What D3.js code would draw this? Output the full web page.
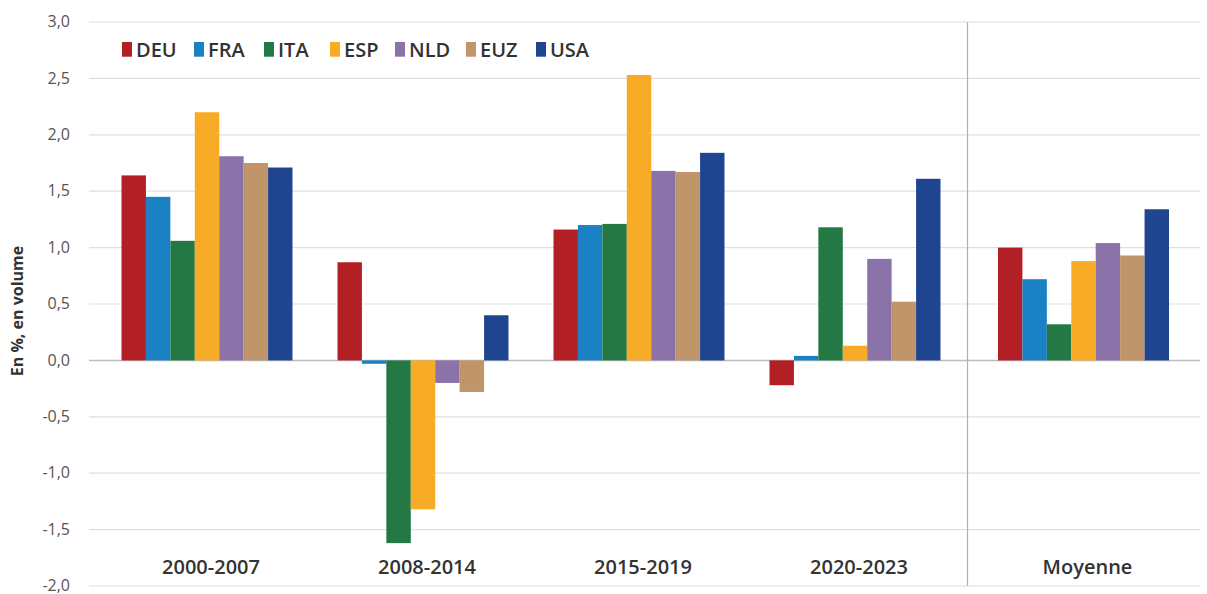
<!DOCTYPE html>
<html><head><meta charset="utf-8">
<script src="https://cdn.jsdelivr.net/npm/d3@7"></script>
<style>body{margin:0;background:#fff}svg{display:block;font-family:"Open Sans",sans-serif}</style>
</head><body><div id="chart"></div>
<script>
const categories = ["2000-2007","2008-2014","2015-2019","2020-2023","Moyenne"];
const series = ["DEU","FRA","ITA","ESP","NLD","EUZ","USA"];
const colors = ["#b21f25","#1a82c4","#237843","#f8ab26","#8b73aa","#c1956a","#1f4591"];
const DEU = [1.64, 0.87, 1.16, -0.22, 1.00];
const FRA = [1.45, -0.03, 1.20, 0.04, 0.72];
const ITA = [1.06, -1.62, 1.21, 1.18, 0.32];
const ESP = [2.20, -1.32, 2.53, 0.13, 0.88];
const NLD = [1.81, -0.20, 1.68, 0.90, 1.04];
const EUZ = [1.75, -0.28, 1.67, 0.52, 0.93];
const USA = [1.71, 0.40, 1.84, 1.61, 1.34];
const values = {DEU, FRA, ITA, ESP, NLD, EUZ, USA};
const yTicks = [3.0,2.5,2.0,1.5,1.0,0.5,0.0,-0.5,-1.0,-1.5,-2.0];

const W = 1207, H = 594;
const svg = d3.select("#chart").append("svg").attr("width", W).attr("height", H);
const y = d3.scaleLinear().domain([-2, 3]).range([586, 22]);
const xLeft = d3.scaleBand().domain(categories.slice(0,4)).range([99, 963]);
const xRight = d3.scaleBand().domain(categories.slice(4)).range([967, 1200]);
const xc = c => categories.indexOf(c) < 4 ? xLeft(c) + xLeft.bandwidth()/2 : xRight(c) + xRight.bandwidth()/2;
const groupW = 171;
const xs = d3.scaleBand().domain(series).range([-groupW/2, groupW/2]);
const fmt = v => d3.format(".1f")(v).replace(".", ",").replace("−","-");

// grid
svg.append("g").selectAll("line").data(yTicks).join("line")
  .attr("x1", 89).attr("x2", 1200)
  .attr("y1", d => y(d)).attr("y2", d => y(d))
  .attr("stroke", d => d === 0 ? "#bdbdbd" : "#e0e0e0").attr("stroke-width", d => d === 0 ? 1.5 : 1.2);

// tick labels
svg.append("g").selectAll("text").data(yTicks).join("text")
  .attr("x", 70).attr("y", d => y(d)).attr("dy", "0.33em")
  .attr("text-anchor", "end").attr("font-size", 16).attr("fill", "#555")
  .text(d => fmt(d));

// separator
svg.append("line").attr("x1", 967.5).attr("x2", 967.5).attr("y1", 22).attr("y2", 586)
  .attr("stroke", "#b0b0b0").attr("stroke-width", 1.2);

// bars
series.forEach((s, i) => {
  svg.append("g").selectAll("rect").data(categories.map((c, j) => ({c, v: values[s][j]}))).join("rect")
    .attr("x", d => xc(d.c) + xs(s))
    .attr("width", xs.bandwidth())
    .attr("y", d => y(Math.max(0, d.v)))
    .attr("height", d => Math.abs(y(d.v) - y(0)))
    .attr("fill", colors[i]);
});

// category labels
svg.append("g").selectAll("text").data(categories).join("text")
  .attr("x", d => xc(d) + 4).attr("y", 574)
  .attr("text-anchor", "middle").attr("font-size", 20).attr("font-weight", 600).attr("fill", "#333")
  .text(d => d);

// y title
svg.append("text").attr("transform", "translate(23,311) rotate(-90)")
  .attr("text-anchor", "middle").attr("font-size", 16).attr("font-weight", 700).attr("fill", "#333")
  .text("En %, en volume");

// legend
const legX = [122, 194, 264, 330, 395, 466, 536];
const leg = svg.append("g");
series.forEach((s, i) => {
  leg.append("rect").attr("x", legX[i]).attr("y", 42).attr("width", 10).attr("height", 14.7).attr("fill", colors[i]);
  leg.append("text").attr("x", legX[i] + 14).attr("y", 56.7).attr("font-size", 20).attr("font-weight", 600)
    .attr("fill", "#333").text(s);
});
</script></body></html>
